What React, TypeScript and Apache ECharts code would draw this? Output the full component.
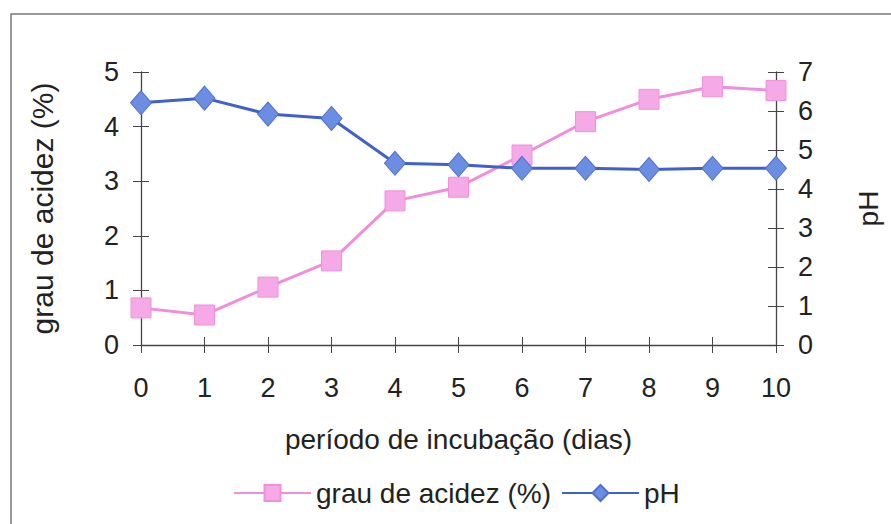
import React, { useEffect, useRef } from "react";
import * as echarts from "echarts";

const days = ["0", "1", "2", "3", "4", "5", "6", "7", "8", "9", "10"];
const acidez = [0.68, 0.55, 1.06, 1.54, 2.64, 2.89, 3.48, 4.09, 4.5, 4.73, 4.66];
const ph = [6.21, 6.33, 5.92, 5.81, 4.66, 4.62, 4.53, 4.53, 4.5, 4.53, 4.53];
const leftTicks = { min: 0, max: 5, interval: 1 };
const rightTicks = { min: 0, max: 7, interval: 1 };

const FONT = "'Liberation Sans', Arial, sans-serif";
const AXIS = "#444";

export default function App() {
  const ref = useRef<HTMLDivElement>(null);
  useEffect(() => {
    if (!ref.current) return;
    const chart = echarts.init(ref.current, undefined, { renderer: "svg" });
    const txt = { fontFamily: FONT, color: "#222" };
    chart.setOption({
      animation: false,
      backgroundColor: "#fff",
      textStyle: { fontFamily: FONT },
      grid: { left: 141, right: 115, top: 72, bottom: 179, outerBoundsMode: "none", containLabel: false },
      graphic: [
        {
          type: "rect",
          shape: { x: 11, y: 14, width: 900, height: 530 },
          style: { fill: "none", stroke: "#777", lineWidth: 1.5 },
          silent: true,
        },
      ],
      legend: {
        left: 228,
        top: 474,
        itemWidth: 77,
        itemHeight: 20,
        itemGap: 10,
        textStyle: { ...txt, fontSize: 28, padding: [0, 0, 0, 0] },
        data: ["grau de acidez (%)", "pH"],
      },
      xAxis: [
        {
          type: "category",
          data: days,
          boundaryGap: false,
          name: "período de incubação (dias)",
          nameLocation: "middle",
          nameGap: 80,
          nameTextStyle: { ...txt, fontSize: 28 },
          axisLine: { lineStyle: { color: AXIS, width: 1.3 } },
          axisTick: { show: true, length: 8, lineStyle: { color: AXIS } },
          axisLabel: { ...txt, fontSize: 27, margin: 29 },
          splitLine: { show: false },
        },
        {
          type: "category",
          data: days,
          boundaryGap: false,
          position: "bottom",
          axisLine: { show: false },
          axisTick: { show: true, inside: true, length: 8, lineStyle: { color: AXIS } },
          axisLabel: { show: false },
          splitLine: { show: false },
        },
      ],
      yAxis: [
        {
          type: "value",
          ...leftTicks,
          position: "left",
          name: "grau de acidez (%)",
          nameLocation: "middle",
          nameGap: 84,
          nameRotate: 90,
          nameTextStyle: { ...txt, fontSize: 30 },
          axisLine: { show: true, lineStyle: { color: AXIS, width: 1.3 } },
          axisTick: { show: true, length: 8, lineStyle: { color: AXIS } },
          axisLabel: { ...txt, fontSize: 27, margin: 22 },
          splitLine: { show: false },
        },
        {
          type: "value",
          ...rightTicks,
          position: "right",
          name: "pH",
          nameLocation: "middle",
          nameGap: 78,
          nameRotate: 90,
          nameTextStyle: { ...txt, fontSize: 28 },
          axisLine: { show: true, lineStyle: { color: AXIS, width: 1.3 } },
          axisTick: { show: true, length: 8, lineStyle: { color: AXIS } },
          axisLabel: { ...txt, fontSize: 27, margin: 22 },
          splitLine: { show: false },
        },
        {
          type: "value",
          ...leftTicks,
          position: "left",
          axisLine: { show: false },
          axisTick: { show: true, inside: true, length: 8, lineStyle: { color: AXIS } },
          axisLabel: { show: false },
          splitLine: { show: false },
        },
        {
          type: "value",
          ...rightTicks,
          position: "right",
          axisLine: { show: false },
          axisTick: { show: true, inside: true, length: 8, lineStyle: { color: AXIS } },
          axisLabel: { show: false },
          splitLine: { show: false },
        },
      ],
      series: [
        {
          name: "grau de acidez (%)",
          type: "line",
          data: acidez,
          xAxisIndex: 0,
          yAxisIndex: 0,
          symbol: "rect",
          symbolSize: 20,
          lineStyle: { color: "#f08edb", width: 3 },
          itemStyle: { color: "#f5a9e6", borderColor: "#f090dc", borderWidth: 1 },
          z: 2,
        },
        {
          name: "pH",
          type: "line",
          data: ph,
          xAxisIndex: 0,
          yAxisIndex: 1,
          symbol: "diamond",
          symbolSize: [21, 24],
          lineStyle: { color: "#4060cc", width: 3 },
          itemStyle: { color: "#6b8ee3", borderColor: "#4f6fd0", borderWidth: 1 },
          z: 3,
        },
      ],
    });
    return () => chart.dispose();
  }, []);
  return <div ref={ref} style={{ width: 891, height: 524, position: "absolute", left: 0, top: 0 }} />;
}
